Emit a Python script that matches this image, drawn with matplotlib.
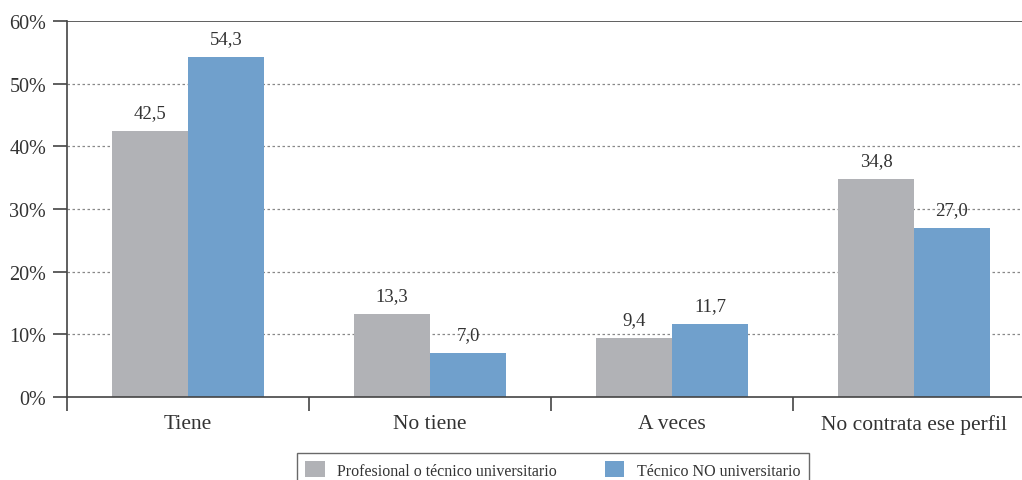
import matplotlib
matplotlib.use('Agg')
import matplotlib.pyplot as plt
import numpy as np

plt.rcParams['font.family'] = ['Liberation Serif', 'DejaVu Serif']
plt.rcParams['font.size'] = 13

categories = ['Tiene', 'No tiene', 'A veces', 'No contrata ese perfil']
profesional = [42.5, 13.3, 9.4, 34.8]
tecnico = [54.3, 7.0, 11.7, 27.0]
series_names = ['Profesional o técnico universitario', 'Técnico NO universitario']
yticks = [0, 10, 20, 30, 40, 50, 60]

gray = '#b1b2b6'
blue = '#70a0cc'
txt = '#333333'

fig = plt.figure(figsize=(10.22, 4.81), dpi=100)
ax = fig.add_axes([67/1022, 1 - 398/481, 968/1022, 376/481])

x = np.arange(len(categories))
w = 0.314
b1 = ax.bar(x - w/2, profesional, w, color=gray, label=series_names[0], zorder=2)
b2 = ax.bar(x + w/2, tecnico, w, color=blue, label=series_names[1], zorder=2)

for bars, vals in [(b1, profesional), (b2, tecnico)]:
    for r, v in zip(bars, vals):
        ax.annotate(f'{v:.1f}'.replace('.', ','), (r.get_x() + r.get_width()/2, r.get_height()),
                    xytext=(0, 7), textcoords='offset points', ha='center', va='bottom',
                    color=txt, fontsize=13.5, zorder=3)

ax.set_xlim(-0.5, 3.5)
ax.set_ylim(0, 60)
ax.set_yticks(yticks)
ax.set_yticklabels([f'{t}%' for t in yticks], color=txt, fontsize=14.5)
for t in yticks[1:-1]:
    ax.axhline(t, color='#888888', lw=0.9, ls=(0, (2, 2)), zorder=1)
ax.axhline(60, color='#444444', lw=1.2, zorder=1)

ax.set_xticks(x)
ax.set_xticklabels(categories, color=txt, fontsize=15.5)
ax.set_xticks(np.arange(-0.5, 4.0, 1), minor=True)
ax.tick_params(axis='x', which='major', length=0, pad=12)
ax.tick_params(axis='x', which='minor', length=10, width=1.2, color='#444444', direction='out')
ax.tick_params(axis='y', length=10, width=1.2, color='#444444', direction='out', pad=5)

for s in ['top', 'right']:
    ax.spines[s].set_visible(False)
for s in ['left', 'bottom']:
    ax.spines[s].set_color('#444444')
    ax.spines[s].set_linewidth(1.2)

leg = fig.legend(handles=[b1, b2], loc='upper center', bbox_to_anchor=(553/1022, 1 - 446/481),
                 ncol=2, frameon=True, fancybox=False, edgecolor='#444444', fontsize=11.5,
                 handlelength=1.2, handleheight=1.2, columnspacing=3, borderpad=0.5)
leg.get_frame().set_linewidth(1.0)
for t in leg.get_texts():
    t.set_color(txt)

fig.savefig('out.png', dpi=100)
